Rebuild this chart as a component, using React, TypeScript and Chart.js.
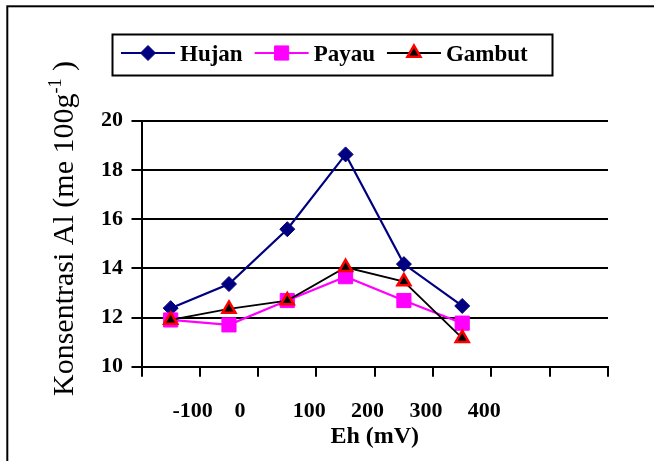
import React, { useEffect, useRef } from 'react';
import { Chart, registerables } from 'chart.js';
import { drawPoint } from 'chart.js/helpers';

Chart.register(...registerables);

// ---- data ----
const categories = ['-100', '0', '100', '200', '300', '400', '', ''];
const seriesNames = ['Hujan', 'Payau', 'Gambut'];
const hujan = [12.38, 13.36, 15.59, 18.63, 14.17, 12.47];
const payau = [11.9, 11.7, 12.69, 13.66, 12.69, 11.77];
const gambut = [11.9, 12.35, 12.69, 14.04, 13.46, 11.16];
const yTicks = [10, 12, 14, 16, 18, 20];
const xTitle = 'Eh (mV)';
const yTitleMain = 'Konsentrasi Al (me 100g';
const yTitleSup = '-1';
const yTitleEnd = ' )';

const SERIF = '"Liberation Serif", "Times New Roman", serif';

const framePlugin = {
  id: 'frame',
  beforeDraw(chart: any) {
    const ctx = chart.ctx;
    ctx.save();
    ctx.strokeStyle = '#000';
    ctx.lineWidth = 2;
    ctx.strokeRect(7.3, 6.3, 720, 520);
    ctx.restore();
  },
};

const yTitlePlugin = {
  id: 'yTitle',
  afterDraw(chart: any) {
    const ctx = chart.ctx;
    ctx.save();
    ctx.fillStyle = '#000';
    ctx.textBaseline = 'alphabetic';
    ctx.translate(72.5, 228.5);
    ctx.rotate(-Math.PI / 2);
    const mainFont = `30px ${SERIF}`;
    const supFont = `18px ${SERIF}`;
    ctx.font = mainFont;
    const w1 = ctx.measureText(yTitleMain).width;
    const w3 = ctx.measureText(yTitleEnd).width;
    ctx.font = supFont;
    const w2 = ctx.measureText(yTitleSup).width;
    let sx = -(w1 + w2 + w3) / 2;
    ctx.font = mainFont;
    ctx.fillText(yTitleMain, sx, 0);
    sx += w1;
    ctx.font = supFont;
    ctx.fillText(yTitleSup, sx, -12);
    sx += w2;
    ctx.font = mainFont;
    ctx.fillText(yTitleEnd, sx, 0);
    ctx.restore();
  },
};

const legendPlugin = {
  id: 'boxLegend',
  afterDraw(chart: any) {
    const ctx = chart.ctx;
    ctx.save();
    ctx.strokeStyle = '#000';
    ctx.lineWidth = 2;
    ctx.strokeRect(112.5, 34.5, 440, 41);
    ctx.font = `bold 23px ${SERIF}`;
    ctx.textBaseline = 'alphabetic';
    const lineY = 53;
    let x = 121;
    chart.data.datasets.forEach((ds: any) => {
      ctx.strokeStyle = ds.borderColor;
      ctx.lineWidth = ds.borderWidth;
      ctx.beginPath();
      ctx.moveTo(x, lineY);
      ctx.lineTo(x + 54, lineY);
      ctx.stroke();
      ctx.fillStyle = ds.pointBackgroundColor;
      ctx.strokeStyle = ds.pointBorderColor;
      ctx.lineWidth = ds.pointBorderWidth;
      drawPoint(
        ctx,
        { pointStyle: ds.pointStyle, radius: ds.pointRadius, borderWidth: ds.pointBorderWidth, rotation: 0 } as any,
        x + 27,
        lineY
      );
      const tx = x + 59;
      ctx.fillStyle = '#000';
      ctx.fillText(ds.label, tx, 61);
      x = tx + ctx.measureText(ds.label).width + 12;
    });
    ctx.restore();
  },
};

export default function App() {
  const ref = useRef<HTMLCanvasElement | null>(null);

  useEffect(() => {
    if (!ref.current) return;
    const chart = new Chart(ref.current, {
      type: 'line',
      data: {
        labels: categories,
        datasets: [
          {
            label: seriesNames[0],
            data: hujan,
            borderColor: '#000080',
            backgroundColor: '#000080',
            borderWidth: 2.2,
            pointStyle: 'rectRot',
            pointRadius: 7.5,
            pointBackgroundColor: '#000080',
            pointBorderColor: '#000080',
            pointBorderWidth: 1,
            tension: 0,
            order: 2,
          },
          {
            label: seriesNames[1],
            data: payau,
            borderColor: '#FF00FF',
            backgroundColor: '#FF00FF',
            borderWidth: 2.2,
            pointStyle: 'rect',
            pointRadius: 10,
            pointBackgroundColor: '#FF00FF',
            pointBorderColor: '#FF00FF',
            pointBorderWidth: 1,
            tension: 0,
            order: 1,
          },
          {
            label: seriesNames[2],
            data: gambut,
            borderColor: '#000000',
            backgroundColor: '#000000',
            borderWidth: 1.8,
            pointStyle: 'triangle',
            pointRadius: 7.5,
            pointBackgroundColor: '#000000',
            pointBorderColor: '#FF0000',
            pointBorderWidth: 2.5,
            tension: 0,
            order: 0,
          },
        ],
      },
      options: {
        responsive: false,
        animation: false,
        devicePixelRatio: 1,
        layout: { padding: { left: 101.5, right: 46, top: 120.7, bottom: 0 } },
        plugins: {
          legend: { display: false },
          tooltip: { enabled: false },
        },
        scales: {
          x: {
            type: 'category',
            offset: true,
            grid: {
              display: true,
              drawOnChartArea: false,
              drawTicks: true,
              tickLength: 10,
              color: '#000',
              lineWidth: 2,
              offset: true,
            },
            border: { display: true, color: '#000', width: 2 },
            ticks: {
              color: '#000',
              font: { family: SERIF, size: 22, weight: 'bold' },
              padding: 21,
              labelOffset: 22,
              autoSkip: false,
              maxRotation: 0,
              // the "0" label sits closer to "-100" in the original
              callback: (_v: any, i: number) => (i === 1 ? categories[i] + '\u2003' : categories[i]),
            },
            title: {
              display: true,
              text: xTitle,
              color: '#000',
              font: { family: SERIF, size: 24, weight: 'bold' },
              padding: { top: 0, bottom: 9.6 },
            },
            afterFit: (s: any) => {
              s.height = 94.3;
            },
          },
          y: {
            min: yTicks[0],
            max: yTicks[yTicks.length - 1],
            ticks: {
              stepSize: yTicks[1] - yTicks[0],
              color: '#000',
              font: { family: SERIF, size: 22, weight: 'bold' },
              padding: 8.4,
            },
            grid: { color: '#000', lineWidth: 2, tickLength: 10, drawTicks: true },
            border: { display: true, color: '#000', width: 2 },
            afterFit: (s: any) => {
              s.width = 40;
            },
          },
        },
      },
      plugins: [framePlugin, yTitlePlugin, legendPlugin],
    } as any);
    return () => chart.destroy();
  }, []);

  return (
    <div style={{ position: 'absolute', left: 0, top: 0, width: 654, height: 461, background: '#fff' }}>
      <canvas ref={ref} width={654} height={461} style={{ display: 'block' }} />
    </div>
  );
}
